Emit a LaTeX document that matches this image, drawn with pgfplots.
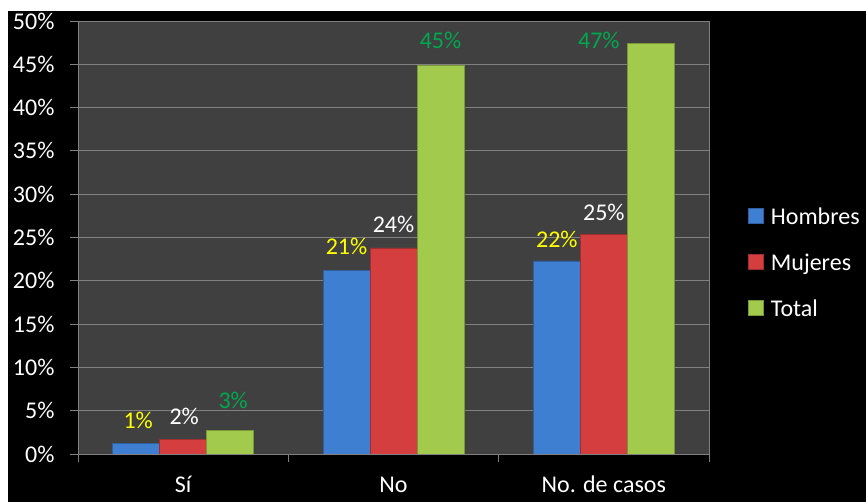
\documentclass[border=0pt]{standalone}
\usepackage{pgfplots}
\usepackage{pgfplotstable}
\pgfplotsset{compat=1.18}
\usepackage{fontspec}
\setmainfont{Carlito}
\definecolor{plotbg}{RGB}{64,64,64}
\definecolor{gridc}{RGB}{128,128,128}
\definecolor{hblue}{RGB}{62,127,210}
\definecolor{mred}{RGB}{212,62,62}
\definecolor{tgreen}{RGB}{162,202,76}
\definecolor{lblyellow}{RGB}{255,255,0}
\definecolor{lblgreen}{RGB}{0,168,80}

% value, plus horizontal / vertical offset of each value label (pt)
\pgfplotstableread{
x y    lx  ly
0 1.2   2  11
1 21.2  0  12
2 22.3  0  10
}\hombres
\pgfplotstableread{
x y    lx  ly
0 1.7   1  11
1 23.8  0  12
2 25.4  0  10
}\mujeres
\pgfplotstableread{
x y    lx  ly
0 2.7   3  18
1 44.9  0  13
2 47.4 -52 -9
}\total

\begin{document}
\begin{tikzpicture}
\path[use as bounding box] (0,0) rectangle (866pt,502pt);
\clip (0,0) rectangle (866pt,502pt);
\fill[white] (0,0) rectangle (866pt,502pt);
\fill[black] (8pt,0) rectangle (866pt,491pt);
\begin{axis}[
  at={(78pt,48pt)}, anchor=south west,
  scale only axis, width=631pt, height=433pt,
  /pgf/number format/assume math mode=true,
  axis background/.style={fill=plotbg},
  ybar=0pt, bar width=47pt,
  ymin=0, ymax=50, xmin=-0.5, xmax=2.5,
  ytick={0,5,...,50},
  yticklabel={\pgfmathprintnumber{\tick}\%},
  ymajorgrids, major grid style={gridc, line width=0.8pt},
  xtick={-0.5,0.5,1.5,2.5}, xticklabels={},
  extra x ticks={0,1,2},
  extra x tick labels={Sí,No,No. de casos},
  extra x tick style={major tick length=0pt,
    xticklabel style={anchor=base, inner sep=0pt, yshift=-39pt}},
  axis line style={gridc, line width=0.8pt},
  tick style={gridc, line width=0.8pt},
  major tick length=8pt, tick align=outside, tick pos=left,
  ticklabel style={text=white, font=\fontsize{24}{28}\selectfont},
  yticklabel style={xshift=-12pt},
  visualization depends on={\thisrow{lx} \as \lx},
  visualization depends on={\thisrow{ly} \as \ly},
  nodes near coords={\pgfmathprintnumber[fixed,precision=0]{\pgfplotspointmeta}\%},
  every node near coord/.append style={font=\fontsize{24}{28}\selectfont,
    xshift=\lx pt, yshift=\ly pt},
  legend style={at={(1.062,0.442)}, anchor=west, draw=none, fill=none,
    text=white, font=\fontsize{24}{28}\selectfont, row sep=24pt,
    column sep=5pt, inner sep=0pt},
  legend cell align=left,
  legend image code/.code={\draw[#1, line width=0.6pt] (0pt,-7pt) rectangle (15pt,8pt);},
]
\addplot[fill=hblue, draw=hblue!75!black,
  every node near coord/.append style={text=lblyellow}]
  table[x=x, y=y] {\hombres};
\addplot[fill=mred, draw=mred!75!black,
  every node near coord/.append style={text=white}]
  table[x=x, y=y] {\mujeres};
\addplot[fill=tgreen, draw=tgreen!75!black,
  every node near coord/.append style={text=lblgreen}]
  table[x=x, y=y] {\total};
\legend{Hombres, Mujeres, Total}
\end{axis}
\end{tikzpicture}
\end{document}
